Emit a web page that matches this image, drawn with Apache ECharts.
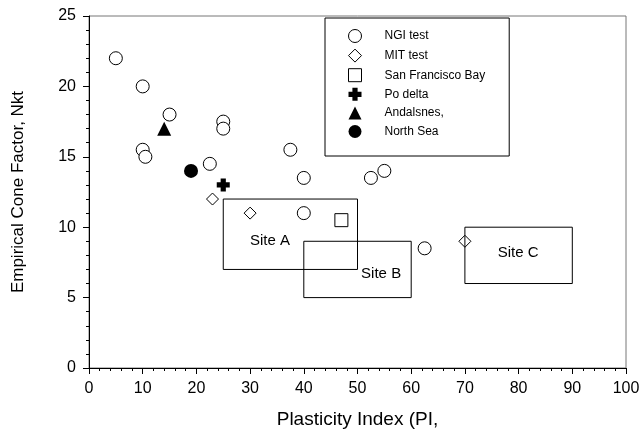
<!DOCTYPE html>
<html>
<head>
<meta charset="utf-8">
<script src="https://cdn.jsdelivr.net/npm/echarts@6/dist/echarts.min.js"></script>
<style>
  html, body { margin: 0; padding: 0; background: #fff; }
  #main { width: 640px; height: 430px; }
</style>
</head>
<body>
<div id="main"></div>
<script>
// 各类试验数据 [PI, Nkt]
var ngiTest = [[5, 22], [10, 20], [15, 18], [25, 17.5], [25, 17], [10, 15.5], [10.5, 15],
  [22.5, 14.5], [37.5, 15.5], [40, 13.5], [40, 11], [52.5, 13.5], [55, 14], [62.5, 8.5]];
var mitTest = [[23, 12], [30, 11], [70, 9]];
var sanFrancisco = [[47, 10.5]];
var poDelta = [[25, 13]];
var andalsnes = [[14, 17]];
var northSea = [[19, 14]];

// 场地范围 [xmin, xmax, ymin, ymax] 及标注位置
var siteNames = ['Site A', 'Site B', 'Site C'];
var siteBoxes = [[25, 50, 7, 12], [40, 60, 5, 9], [70, 90, 6, 10]];
var siteLabelPos = [[33.7, 9], [54.4, 6.7], [79.9, 8.15]];

var xTicks = [0, 100, 10];
var yTicks = [0, 25, 5];

var plusPath = 'path://M3,0H7V3H10V7H7V10H3V7H0V3H3Z';
var font = 'Liberation Sans';

var myChart = echarts.init(document.getElementById('main'));

function hollow(name, data, symbol, size) {
    return {
        name: name,
        type: 'scatter',
        data: data,
        symbol: symbol,
        symbolSize: size,
        z: 5,
        itemStyle: { color: '#fff', borderColor: '#000', borderWidth: 1, opacity: 1 }
    };
}

function solid(name, data, symbol, size) {
    return {
        name: name,
        type: 'scatter',
        data: data,
        symbol: symbol,
        symbolSize: size,
        z: 5,
        itemStyle: { color: '#000', opacity: 1 }
    };
}

var option = {
    animation: false,
    backgroundColor: '#fff',
    grid: {
        left: 89, right: 14, top: 16, bottom: 62,
        outerBoundsMode: 'none',
        containLabel: false,
        show: true, borderColor: '#777', borderWidth: 1
    },
    legend: {
        orient: 'vertical',
        left: 325,
        top: 18,
        padding: [11, 24, 18, 23],
        itemGap: 5.6,
        itemWidth: 13,
        itemHeight: 13,
        borderColor: '#000',
        borderWidth: 1,
        backgroundColor: '#fff',
        itemStyle: { borderWidth: 1 },
        textStyle: { fontFamily: font, fontSize: 12, color: '#000', padding: [0, 0, 0, 18] },
        data: ['NGI test', 'MIT test', 'San Francisco Bay', 'Po delta', 'Andalsnes,', 'North Sea']
    },
    xAxis: {
        type: 'value',
        min: xTicks[0],
        max: xTicks[1],
        interval: xTicks[2],
        name: 'Plasticity Index (PI,',
        nameLocation: 'middle',
        nameGap: 42,
        nameTextStyle: { fontFamily: font, fontSize: 19, color: '#000' },
        axisLine: { lineStyle: { color: '#000' } },
        axisTick: { length: 6, lineStyle: { color: '#000' } },
        minorTick: { show: true, splitNumber: 5, length: 3, lineStyle: { color: '#000' } },
        splitLine: { show: false },
        axisLabel: { fontFamily: font, fontSize: 16, color: '#000', margin: 13 }
    },
    yAxis: {
        type: 'value',
        min: yTicks[0],
        max: yTicks[1],
        interval: yTicks[2],
        name: 'Empirical Cone Factor, Nkt',
        nameLocation: 'middle',
        nameGap: 62,
        nameTextStyle: { fontFamily: font, fontSize: 17, color: '#000' },
        axisLine: { show: true, lineStyle: { color: '#000' } },
        axisTick: { show: true, length: 6, lineStyle: { color: '#000' } },
        minorTick: { show: true, splitNumber: 5, length: 3, lineStyle: { color: '#000' } },
        splitLine: { show: false },
        axisLabel: { fontFamily: font, fontSize: 16, color: '#000', margin: 13 }
    },
    series: [
        {
            type: 'custom',
            name: 'sites',
            z: 6,
            silent: true,
            data: siteBoxes.map(function (b, i) {
                return [b[0], b[1], b[2], b[3], siteLabelPos[i][0], siteLabelPos[i][1], i];
            }),
            renderItem: function (params, api) {
                var p0 = api.coord([api.value(0), api.value(3)]);
                var p1 = api.coord([api.value(1), api.value(2)]);
                var lp = api.coord([api.value(4), api.value(5)]);
                return {
                    type: 'group',
                    children: [
                        {
                            type: 'rect',
                            shape: { x: p0[0], y: p0[1], width: p1[0] - p0[0], height: p1[1] - p0[1] },
                            style: { fill: 'none', stroke: '#000', lineWidth: 1 }
                        },
                        {
                            type: 'text',
                            x: lp[0],
                            y: lp[1],
                            style: {
                                text: siteNames[api.value(6)],
                                fontFamily: font,
                                fontSize: 15,
                                fill: '#000',
                                align: 'center',
                                verticalAlign: 'middle'
                            }
                        }
                    ]
                };
            }
        },
        hollow('NGI test', ngiTest, 'circle', 13),
        hollow('MIT test', mitTest, 'diamond', 12),
        hollow('San Francisco Bay', sanFrancisco, 'rect', 13),
        solid('Po delta', poDelta, plusPath, 13),
        solid('Andalsnes,', andalsnes, 'triangle', 14),
        solid('North Sea', northSea, 'circle', 14)
    ]
};

myChart.setOption(option);
</script>
</body>
</html>
